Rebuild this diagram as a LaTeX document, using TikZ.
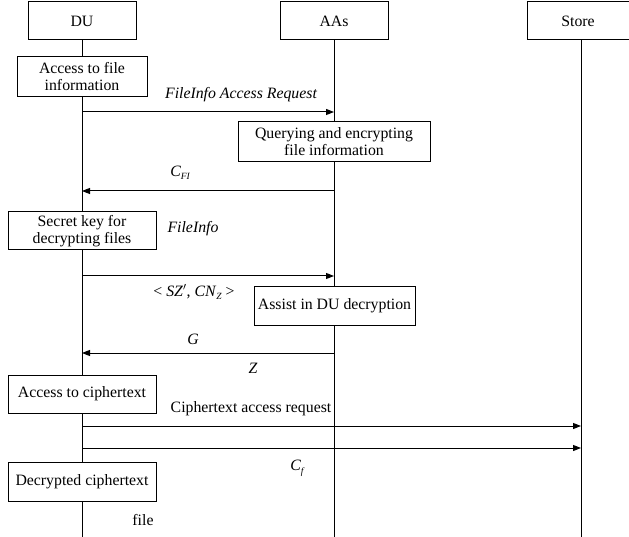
\documentclass[tikz,border=0pt]{standalone}
\usepackage{fontspec}
\setmainfont{Liberation Serif}
\usetikzlibrary{arrows.meta}
\begin{document}
\begin{tikzpicture}[x=1pt,y=-1pt,
  every node/.style={font=\fontsize{15.8}{17}\selectfont, inner sep=0pt},
  actor/.style={draw, line width=1pt, fill=white, minimum width=108pt, minimum height=38pt, align=center},
  actbox/.style={draw, line width=1pt, fill=white, align=center},
  life/.style={line width=1pt},
  msg/.style={line width=1pt, -{Triangle[length=8pt,width=6pt]}},
  lbl/.style={font=\fontsize{15.8}{17}\selectfont\itshape},
  txt/.style={font=\fontsize{15.8}{17}\selectfont}]
\useasboundingbox (0,0) rectangle (629,537);

% participants
\node[actor] (du) at (82,21) {DU};
\node[actor] (aas) at (334,21) {AAs};
\node[actor, minimum width=102pt] (store) at (578,21) {Store};

% lifelines
\coordinate (du-top) at (82,40);
\coordinate (aas-top) at (334,40);
\coordinate (store-top) at (581,40);
\coordinate (du-end) at (82,537);
\coordinate (aas-end) at (334,537);
\coordinate (store-end) at (581,537);
\draw[life] (du-top) -- (du-end);
\draw[life] (aas-top) -- (aas-end);
\draw[life] (store-top) -- (store-end);

% activity boxes
\node[actbox, minimum width=130pt, minimum height=40pt] (b1) at (82,77) {Access to file\\information};
\node[actbox, minimum width=192pt, minimum height=40pt] (b2) at (334,142) {Querying and encrypting\\file information};
\node[actbox, minimum width=148pt, minimum height=38pt] (b3) at (82,231) {Secret key for\\decrypting files};
\node[actbox, minimum width=161pt, minimum height=38pt] (b4) at (334.5,306) {Assist in DU decryption};
\node[actbox, minimum width=148pt, minimum height=38pt] (b5) at (82,394) {Access to ciphertext};
\node[actbox, minimum width=148pt, minimum height=39pt] (b6) at (82,481.5) {Decrypted ciphertext};

% message anchors on the lifelines
\coordinate (m1a) at (82,112);  \coordinate (m1b) at (334,112);
\coordinate (m2a) at (334,191); \coordinate (m2b) at (82,191);
\coordinate (m3a) at (82,276);  \coordinate (m3b) at (334,276);
\coordinate (m4a) at (334,353); \coordinate (m4b) at (82,353);
\coordinate (m5a) at (82,426);  \coordinate (m5b) at (581,426);
\coordinate (m6a) at (82,448);  \coordinate (m6b) at (581,448);

% messages
\draw[msg] (m1a) -- (m1b);
\draw[msg] (m2a) -- (m2b);
\draw[msg] (m3a) -- (m3b);
\draw[msg] (m4a) -- (m4b);
\draw[msg] (m5a) -- (m5b);
\draw[msg] (m6a) -- (m6b);

% message labels
\node[lbl] (l1) at (241,95) {FileInfo Access Request};
\node[lbl] (l2) at (180,173) {C\raisebox{-0.45ex}{\fontsize{9.5}{10}\selectfont FI}};
\node[lbl] (l3) at (193,229) {FileInfo};
\node[txt] (l4) at (194,292) {< \textit{SZ}$'$, \textit{CN}\raisebox{-0.45ex}{\fontsize{9.5}{10}\selectfont\itshape Z} >};
\node[lbl] (l5) at (193,339) {G};
\node[lbl] (l6) at (253,368) {Z};
\node[txt] (l7) at (251,409) {Ciphertext access request};
\node[lbl] (l8) at (297,468) {C\raisebox{-0.6ex}{\fontsize{9.5}{10}\selectfont f}};
\node[txt] (l9) at (143,520) {file};
\end{tikzpicture}
\end{document}
